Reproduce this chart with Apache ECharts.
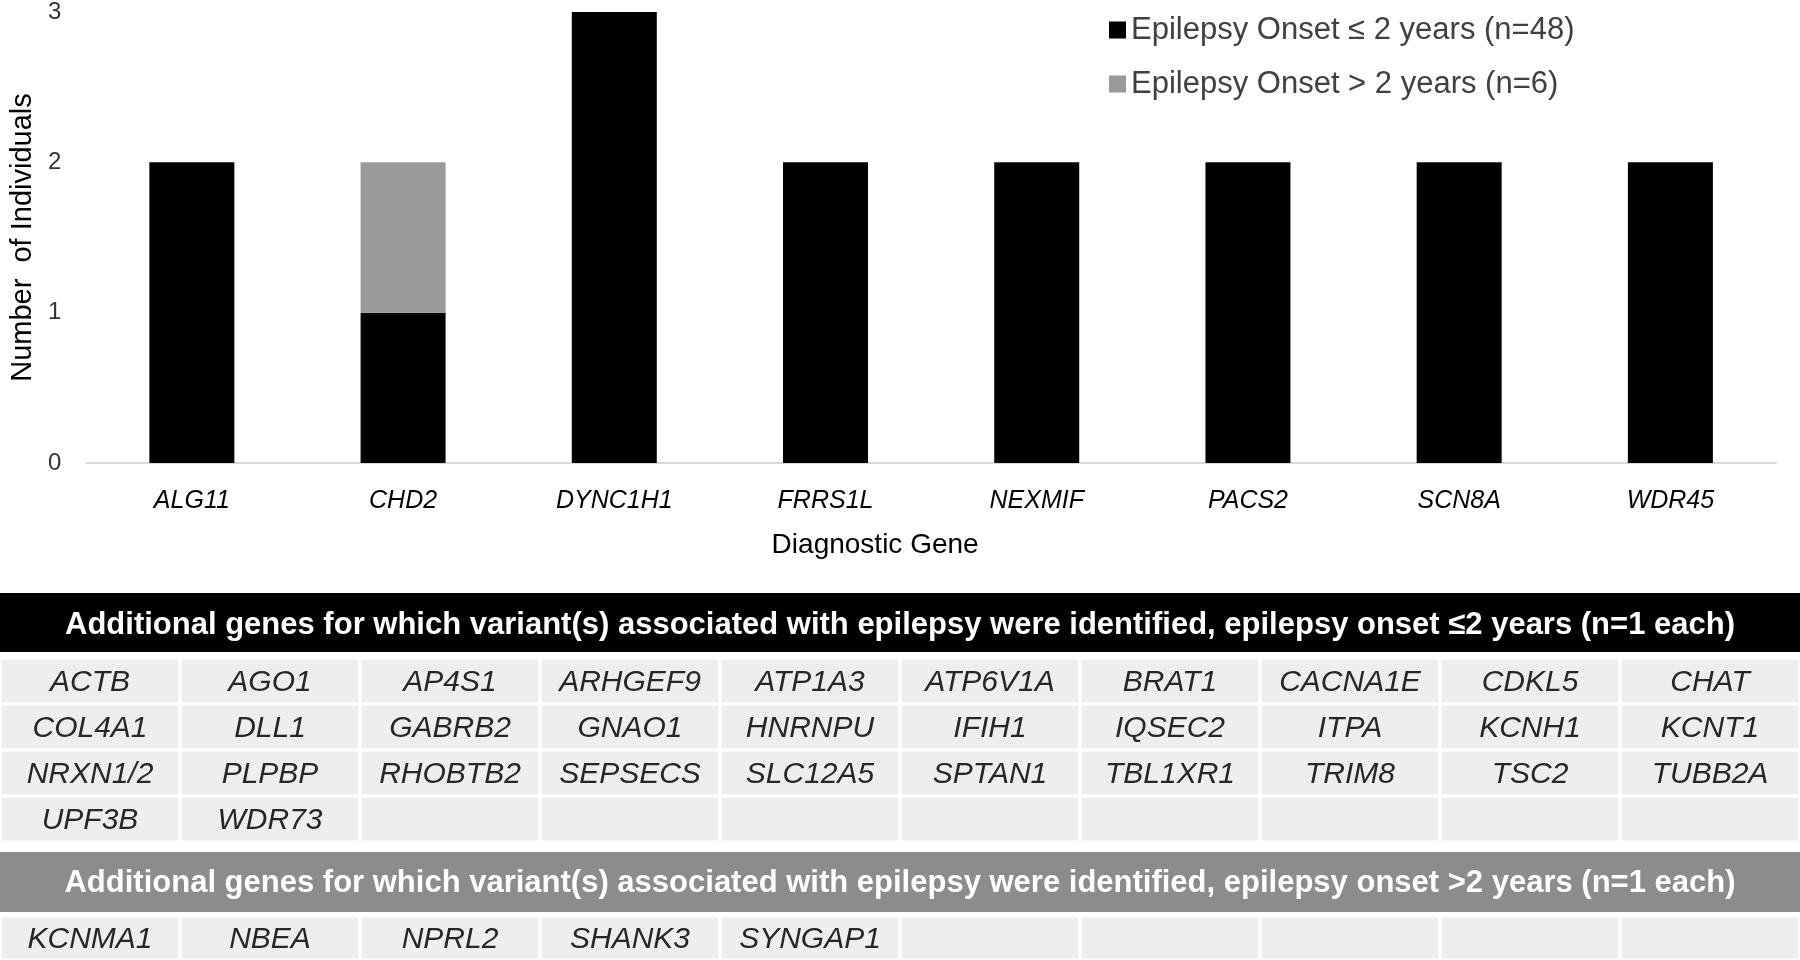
<!DOCTYPE html>
<html>
<head>
<meta charset="utf-8">
<script src="https://cdn.jsdelivr.net/npm/echarts@6/dist/echarts.min.js"></script>
<style>
html,body{margin:0;padding:0;background:#fff;}
#main{width:1800px;height:960px;}
</style>
</head>
<body>
<div id="main"></div>
<script>
// ---- data ----
const categories = ['ALG11','CHD2','DYNC1H1','FRRS1L','NEXMIF','PACS2','SCN8A','WDR45'];
const onsetEarly = [2,1,3,2,2,2,2,2];
const onsetLate  = [0,1,0,0,0,0,0,0];
const yTicks = [0,1,2,3];
const legendNames = ['Epilepsy Onset \u2264 2 years (n=48)','Epilepsy Onset > 2 years (n=6)'];
const headerEarly = 'Additional genes for which variant(s) associated with epilepsy were identified, epilepsy onset \u22642 years (n=1 each)';
const headerLate  = 'Additional genes for which variant(s) associated with epilepsy were identified, epilepsy onset >2 years (n=1 each)';
const genesEarly = ['ACTB','AGO1','AP4S1','ARHGEF9','ATP1A3','ATP6V1A','BRAT1','CACNA1E','CDKL5','CHAT',
  'COL4A1','DLL1','GABRB2','GNAO1','HNRNPU','IFIH1','IQSEC2','ITPA','KCNH1','KCNT1',
  'NRXN1/2','PLPBP','RHOBTB2','SEPSECS','SLC12A5','SPTAN1','TBL1XR1','TRIM8','TSC2','TUBB2A',
  'UPF3B','WDR73'];
const genesLate = ['KCNMA1','NBEA','NPRL2','SHANK3','SYNGAP1'];
const tableCols = 10;

// ---- build ----
const FONT = 'Liberation Sans';
function cells(rows){
  const out = [];
  for(let i=0;i<rows*tableCols;i++) out.push([i%tableCols, Math.floor(i/tableCols)]);
  return out;
}
const earlyRows = Math.ceil(genesEarly.length/tableCols);
const lateRows = Math.ceil(genesLate.length/tableCols);
const colCats = Array.from({length:tableCols},(_,i)=>i);

function cellRenderer(genes){
  return function(params, api){
    const c = api.coord([api.value(0), api.value(1)]);
    const s = api.size([1,1]);
    const name = genes[params.dataIndex] || '';
    return {
      type:'group',
      children:[
        {type:'rect', shape:{x:c[0]-s[0]/2, y:c[1]-s[1]/2, width:s[0], height:s[1]},
         style:{fill:'#eeeeee', stroke:'#ffffff', lineWidth:3}},
        {type:'text', style:{text:name, x:c[0], y:c[1]+2, align:'center', verticalAlign:'middle',
         font:'italic 30px "' + FONT + '"', fill:'#262626'}}
      ]
    };
  };
}

const chart = echarts.init(document.getElementById('main'));
chart.setOption({
  backgroundColor:'#ffffff',
  animation:false,
  textStyle:{fontFamily:FONT},
  legend:{
    data:legendNames,
    orient:'vertical',
    left:1104, top:8,
    itemWidth:17, itemHeight:17, itemGap:20,
    icon:'rect',
    textStyle:{fontSize:31, color:'#404040', lineHeight:34, fontFamily:FONT}
  },
  grid:[
    {left:84, right:24, top:11.5, height:451.5},
    {left:0, right:0, top:658, height:184},
    {left:0, right:0, top:916, height:46}
  ],
  xAxis:[
    {gridIndex:0, type:'category', data:categories,
     axisLine:{lineStyle:{color:'#d9d9d9', width:2}},
     axisTick:{show:false},
     axisLabel:{fontSize:25, fontStyle:'italic', color:'#000', margin:26},
     name:'Diagnostic Gene', nameLocation:'middle', nameGap:68,
     nameTextStyle:{fontSize:28, color:'#000', padding:[0,112,0,0]}},
    {gridIndex:1, type:'category', data:colCats, show:false},
    {gridIndex:2, type:'category', data:colCats, show:false}
  ],
  yAxis:[
    {gridIndex:0, type:'value', min:yTicks[0], max:yTicks[yTicks.length-1], interval:1,
     axisLine:{show:false}, axisTick:{show:false}, splitLine:{show:false},
     axisLabel:{fontSize:24, color:'#333', margin:25},
     name:'Number  of Individuals', nameLocation:'middle', nameGap:33,
     nameTextStyle:{fontSize:29, color:'#000'}},
    {gridIndex:1, type:'category', data:Array.from({length:earlyRows},(_,i)=>i), inverse:true, show:false},
    {gridIndex:2, type:'category', data:Array.from({length:lateRows},(_,i)=>i), inverse:true, show:false}
  ],
  series:[
    {name:legendNames[0], type:'bar', stack:'n', data:onsetEarly, barWidth:85,
     itemStyle:{color:'#000000'}, xAxisIndex:0, yAxisIndex:0},
    {name:legendNames[1], type:'bar', stack:'n', data:onsetLate, barWidth:85,
     itemStyle:{color:'#9a9a9a'}, xAxisIndex:0, yAxisIndex:0},
    {type:'custom', xAxisIndex:1, yAxisIndex:1, data:cells(earlyRows), renderItem:cellRenderer(genesEarly), silent:true},
    {type:'custom', xAxisIndex:2, yAxisIndex:2, data:cells(lateRows), renderItem:cellRenderer(genesLate), silent:true}
  ],
  graphic:[
    {type:'rect', shape:{x:0, y:593, width:1800, height:59}, style:{fill:'#000000'}, z:10},
    {type:'text', x:900, y:625, style:{text:headerEarly, align:'center', verticalAlign:'middle',
      font:'bold 31px "' + FONT + '"', fill:'#ffffff'}, z:11},
    {type:'rect', shape:{x:0, y:852, width:1800, height:60}, style:{fill:'#8c8c8c'}, z:10},
    {type:'text', x:900, y:883, style:{text:headerLate, align:'center', verticalAlign:'middle',
      font:'bold 31px "' + FONT + '"', fill:'#ffffff'}, z:11}
  ]
});
</script>
</body>
</html>
